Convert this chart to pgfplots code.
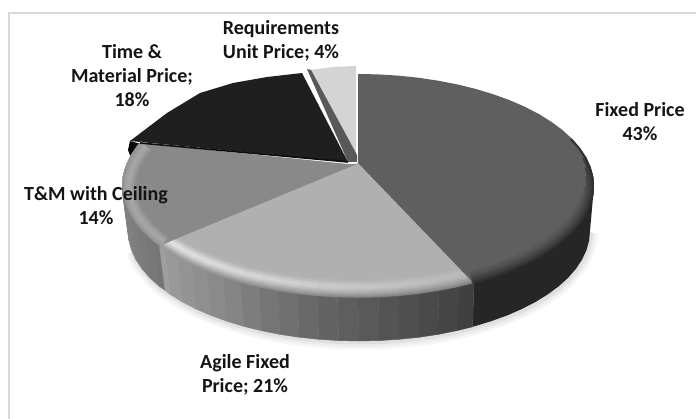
\documentclass[border=0pt]{standalone}
\usepackage{fontspec}
\setmainfont{Carlito}
\usepackage{pgfplots}
\usepackage{pgfplotstable}
\pgfplotsset{compat=1.18}

% Pixel-based layout of the pie: the upper face is an ellipse, the base a slightly smaller one.
\pgfplotstableread{
x y
358 163
358 74
378.6 74.4
399 75.7
419.1 77.8
438.7 80.8
457.7 84.5
476 89
493.4 94.3
509.7 100.2
524.9 106.8
538.8 114
551.3 121.8
562.4 130
571.9 138.7
579.8 147.7
586 157
590.4 166.6
593.1 176.2
594 186
593.1 195.8
590.4 205.4
586 215
579.8 224.3
571.9 233.3
562.4 242
551.3 250.2
538.8 258
524.9 265.2
509.7 271.8
493.4 277.7
476 283
474 283.5
358 163
}\fixedTop

\pgfplotstableread{
x y
358 163
474 283.5
457.7 287.5
438.7 291.2
419.1 294.2
399 296.3
378.6 297.6
358 298
337.4 297.6
317 296.3
296.9 294.2
277.3 291.2
258.3 287.5
240 283
222.6 277.7
206.3 271.8
191.1 265.2
177.2 258
164.7 250.2
159 246
358 163
}\agileTop

\pgfplotstableread{
x y
357 164
159 246
153.6 242
144.1 233.3
136.2 224.3
130 215
125.6 205.4
122.9 195.8
122 186
122.9 176.2
125.6 166.6
130 157
136.2 147.7
140 143
348 164
}\ceilingTop

\pgfplotstableread{
x y
348 162
130 141
167 113
200 93
233 83
267 77
302 73
}\timeTop

\pgfplotstableread{
x y
130 141
128 150
131 158
141 144
}\timeWall

\pgfplotstableread{
x y
140 143
348 162
}\timeEdge

\pgfplotstableread{
x y
307 69
311 70
357 155
357 162
348 162
}\reqSide

\pgfplotstableread{
x y
310 70
333 67
356 66
356 156
}\reqTop

% Outer wall of the largest slice: upper rim, then the base back again.
\pgfplotstableread{
x y
594 186
593.1 195.8
590.4 205.4
586 215
579.8 224.3
571.9 233.3
562.4 242
551.3 250.2
538.8 258
524.9 265.2
509.7 271.8
493.4 277.7
476 283
474 283.5
472.5 326.8
474.5 326.3
491.5 321.1
507.5 315.3
522.3 308.8
536 301.7
548.2 294.1
559.1 286
568.4 277.5
576.1 268.6
582.1 259.5
586.5 250.1
589.1 240.6
590 231
}\fixedWall

% Base outline, used for the soft shadow under the pie.
\pgfplotstableread{
x y
590 231
589.1 240.6
586.5 250.1
582.1 259.5
576.1 268.6
568.4 277.5
559.1 286
548.2 294.1
536 301.7
522.3 308.8
507.5 315.3
491.5 321.1
474.5 326.3
456.6 330.7
438 334.4
418.8 337.3
399.1 339.3
379.1 340.6
359 341
338.9 340.6
318.9 339.3
299.2 337.3
280 334.4
261.4 330.7
243.5 326.3
226.5 321.1
210.5 315.3
195.7 308.8
182 301.7
169.8 294.1
158.9 286
149.6 277.5
141.9 268.6
135.9 259.5
131.5 250.1
}\baseArc

% Rim arcs of the upper face, for the bevel bands.
\pgfplotstableread{
x y
538.8 114
551.3 121.8
562.4 130
571.9 138.7
579.8 147.7
586 157
590.4 166.6
593.1 176.2
594 186
593.1 195.8
590.4 205.4
586 215
579.8 224.3
571.9 233.3
562.4 242
551.3 250.2
538.8 258
524.9 265.2
509.7 271.8
493.4 277.7
476 283
474 283.5
}\fixedRim

\pgfplotstableread{
x y
474 283.5
457.7 287.5
438.7 291.2
419.1 294.2
399 296.3
378.6 297.6
358 298
337.4 297.6
317 296.3
296.9 294.2
277.3 291.2
258.3 287.5
240 283
222.6 277.7
206.3 271.8
191.1 265.2
177.2 258
164.7 250.2
159 246
}\agileRim

\pgfplotstableread{
x y
159 246
153.6 242
144.1 233.3
136.2 224.3
130 215
125.6 205.4
122.9 195.8
122 186
122.9 176.2
125.6 166.6
130 157
136.2 147.7
140 143
}\ceilingRim

% A band along the rim: #1 table, #2 inset from the edge, #3 grey level at the left end, #4 at the right end, #5 skip
\newcommand{\rimband}[5]{%
  \pgfmathsetmacro{\bandwd}{2*#2}
  \edef\temp{\noexpand\addplot[mesh, no marks, line width=\bandwd pt, line cap=butt, line join=round,
    colormap={band}{gray(0cm)=(#3); gray(1cm)=(#4)}, shader=flat, point meta=\noexpand\thisrow{x}, point meta min=130, point meta max=480, #5]
    table[x expr={358+(\noexpand\thisrow{x}-358)*(1-#2/236)}, y expr={186+(\noexpand\thisrow{y}-186)*(1-#2/112)}]}
  \temp {#1};
}

% One strip of an outer wall: #1 per cent white, #2 its four corners.
\newcommand{\wallstrip}[2]{%
  \addplot[fill=white!#1!black, draw=white!#1!black, line width=0.4pt, no marks] coordinates {#2} --cycle;
}

\definecolor{fixedgrey}{HTML}{5F5F5F}
\definecolor{agilegrey}{HTML}{B0B0B0}
\definecolor{ceilgrey}{HTML}{898989}

\tikzset{lab/.style={font=\fontsize{20}{24}\selectfont\bfseries, align=center, text=black!92, inner sep=0pt}}

\begin{document}
\begin{tikzpicture}
\useasboundingbox (0,0) rectangle (696pt,419pt);
\begin{axis}[
  anchor=south west, at={(0,0)},
  width=696pt, height=419pt, scale only axis,
  xmin=0, xmax=696, ymin=0, ymax=419, y dir=reverse,
  hide axis, clip=false,
]
% chart frame
\addplot[draw=black!15, line width=2pt] coordinates {(9,419) (9,13) (696,13)};

% shadow
\addplot[draw=black!4, line width=13pt, no marks] table[x expr=\thisrow{x}+1, y expr=\thisrow{y}+2] {\baseArc};
\addplot[draw=black!7, line width=8pt, no marks] table[x expr=\thisrow{x}+1, y expr=\thisrow{y}+2] {\baseArc};
\addplot[draw=black!12, line width=4pt, no marks] table[x expr=\thisrow{x}+1, y expr=\thisrow{y}+1.5] {\baseArc};

% slices at the back
\addplot[fill=black!17, draw=none] table {\reqTop} --cycle;
\addplot[fill=black!65, draw=none] table {\reqSide} --cycle;
\addplot[fill=black!88, draw=none] table {\timeTop} --cycle;
\addplot[fill=black!97, draw=none] table {\timeWall} --cycle;

% upper faces with their bevels
\addplot[fill=agilegrey, draw=none] table {\agileTop} --cycle;
\rimband{\agileRim}{9}{0.72}{0.70}{}
\rimband{\agileRim}{8}{0.78}{0.71}{}
\rimband{\agileRim}{7}{0.85}{0.72}{}
\rimband{\agileRim}{6}{0.90}{0.72}{}
\rimband{\agileRim}{5}{0.88}{0.70}{}
\rimband{\agileRim}{4}{0.82}{0.66}{}
\rimband{\agileRim}{3}{0.74}{0.62}{}
\rimband{\agileRim}{2}{0.66}{0.57}{}
\rimband{\agileRim}{1}{0.60}{0.50}{}

\addplot[fill=fixedgrey, draw=none] table {\fixedTop} --cycle;
\rimband{\fixedRim}{7}{0.36}{0.36}{skip coords between index={0}{10}}
\rimband{\fixedRim}{6}{0.34}{0.34}{skip coords between index={0}{9}}
\rimband{\fixedRim}{5}{0.32}{0.32}{skip coords between index={0}{8}}
\rimband{\fixedRim}{4}{0.29}{0.29}{skip coords between index={0}{7}}
\rimband{\fixedRim}{3}{0.26}{0.26}{skip coords between index={0}{6}}
\rimband{\fixedRim}{2}{0.23}{0.23}{skip coords between index={0}{5}}
\rimband{\fixedRim}{1}{0.19}{0.19}{skip coords between index={0}{3}}

\addplot[fill=ceilgrey, draw=none] table {\ceilingTop} --cycle;
\rimband{\ceilingRim}{7}{0.56}{0.56}{}
\rimband{\ceilingRim}{6}{0.60}{0.60}{}
\rimband{\ceilingRim}{5}{0.63}{0.63}{}
\rimband{\ceilingRim}{4}{0.65}{0.65}{}
\rimband{\ceilingRim}{3}{0.64}{0.64}{}
\rimband{\ceilingRim}{2}{0.61}{0.61}{}
\rimband{\ceilingRim}{1}{0.58}{0.58}{}
\addplot[draw=black!95, line width=1.6pt, no marks] table {\timeEdge};

% outer walls
\addplot[fill=black!85, draw=none] table {\fixedWall} --cycle;
\wallstrip{25}{(474,283.5)(472.5,326.8)(456.6,330.7)(457.7,287.5)}
\wallstrip{27}{(457.7,287.5)(456.6,330.7)(438,334.4)(438.7,291.2)}
\wallstrip{29}{(438.7,291.2)(438,334.4)(418.8,337.3)(419.1,294.2)}
\wallstrip{31}{(419.1,294.2)(418.8,337.3)(399.1,339.3)(399,296.3)}
\wallstrip{33}{(399,296.3)(399.1,339.3)(379.1,340.6)(378.6,297.6)}
\wallstrip{35}{(378.6,297.6)(379.1,340.6)(359,341)(358,298)}
\wallstrip{37}{(358,298)(359,341)(338.9,340.6)(337.4,297.6)}
\wallstrip{39}{(337.4,297.6)(338.9,340.6)(318.9,339.3)(317,296.3)}
\wallstrip{41}{(317,296.3)(318.9,339.3)(299.2,337.3)(296.9,294.2)}
\wallstrip{44}{(296.9,294.2)(299.2,337.3)(280,334.4)(277.3,291.2)}
\wallstrip{46}{(277.3,291.2)(280,334.4)(261.4,330.7)(258.3,287.5)}
\wallstrip{49}{(258.3,287.5)(261.4,330.7)(243.5,326.3)(240,283)}
\wallstrip{52}{(240,283)(243.5,326.3)(226.5,321.1)(222.6,277.7)}
\wallstrip{54}{(222.6,277.7)(226.5,321.1)(210.5,315.3)(206.3,271.8)}
\wallstrip{56}{(206.3,271.8)(210.5,315.3)(195.7,308.8)(191.1,265.2)}
\wallstrip{58}{(191.1,265.2)(195.7,308.8)(182,301.7)(177.2,258)}
\wallstrip{60}{(177.2,258)(182,301.7)(169.8,294.1)(164.7,250.2)}
\wallstrip{62}{(164.7,250.2)(169.8,294.1)(164.5,290)(159,246)}
\wallstrip{46}{(159,246)(164.5,290)(158.9,286)(153.6,242)}
\wallstrip{47}{(153.6,242)(158.9,286)(149.6,277.5)(144.1,233.3)}
\wallstrip{48}{(144.1,233.3)(149.6,277.5)(141.9,268.6)(136.2,224.3)}
\wallstrip{49}{(136.2,224.3)(141.9,268.6)(135.9,259.5)(130,215)}
\wallstrip{50}{(130,215)(135.9,259.5)(131.5,250.1)(125.6,205.4)}
\wallstrip{50}{(125.6,205.4)(131.5,250.1)(128.9,240.6)(122.9,195.8)}
\wallstrip{49}{(122.9,195.8)(128.9,240.6)(128,231)(122,186)}

% data labels
\node[lab] at (axis cs:281,41) {Requirements\\Unit Price; 4\%};
\node[lab] at (axis cs:132,76) {Time \&\\Material Price;\\18\%};
\node[lab] at (axis cs:640,122) {Fixed Price\\43\%};
\node[lab] at (axis cs:96,206) {T\&M with Ceiling\\14\%};
\node[lab] at (axis cs:245,375) {Agile Fixed\\Price; 21\%};
\end{axis}
\end{tikzpicture}
\end{document}
